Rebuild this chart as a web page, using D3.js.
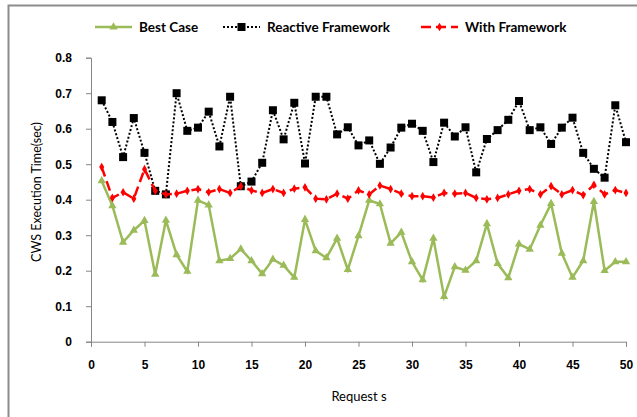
<!DOCTYPE html>
<html>
<head>
<meta charset="utf-8">
<script src="https://cdn.jsdelivr.net/npm/d3@7"></script>
<style>
  body { margin: 0; background: #fff; }
  svg { display: block; font-family: Lato, "Open Sans", sans-serif; }
</style>
</head>
<body>
<div id="chart"></div>
<script>
// 各系列的值
const requests = d3.range(1, 51);
const bestCase = [0.453, 0.383, 0.280, 0.314, 0.341, 0.190, 0.342, 0.245, 0.198, 0.398,
  0.385, 0.228, 0.234, 0.261, 0.228, 0.191, 0.232, 0.215, 0.181, 0.344,
  0.256, 0.236, 0.291, 0.203, 0.298, 0.398, 0.388, 0.277, 0.308, 0.225,
  0.174, 0.291, 0.127, 0.211, 0.201, 0.228, 0.332, 0.220, 0.180, 0.275,
  0.260, 0.328, 0.389, 0.249, 0.181, 0.228, 0.395, 0.200, 0.225, 0.225];
const reactive = [0.680, 0.619, 0.520, 0.630, 0.532, 0.425, 0.415, 0.700, 0.594, 0.603,
  0.648, 0.550, 0.690, 0.438, 0.451, 0.504, 0.652, 0.570, 0.673, 0.502,
  0.690, 0.690, 0.584, 0.604, 0.553, 0.567, 0.501, 0.547, 0.603, 0.614,
  0.594, 0.506, 0.617, 0.578, 0.604, 0.477, 0.571, 0.596, 0.625, 0.678,
  0.596, 0.604, 0.557, 0.603, 0.631, 0.532, 0.487, 0.462, 0.666, 0.562];
const withFramework = [0.492, 0.405, 0.421, 0.403, 0.486, 0.425, 0.415, 0.417, 0.425, 0.430,
  0.421, 0.430, 0.419, 0.438, 0.426, 0.419, 0.430, 0.419, 0.431, 0.435,
  0.403, 0.401, 0.417, 0.403, 0.426, 0.415, 0.440, 0.430, 0.417, 0.410,
  0.410, 0.406, 0.419, 0.417, 0.419, 0.405, 0.401, 0.405, 0.415, 0.425,
  0.430, 0.415, 0.438, 0.415, 0.427, 0.413, 0.442, 0.415, 0.427, 0.419];
const xTicks = d3.range(0, 51, 5);
const yTicks = d3.range(0, 0.81, 0.1);

const width = 637, height = 417;
const margin = { top: 57.7, right: 11, bottom: 75.3, left: 91 };

const series = [
  { name: "Best Case", values: bestCase, color: "#9bbb59", dash: null, width: 2.5, marker: "triangle", legendX: 95 },
  { name: "Reactive Framework", values: reactive, color: "#000", dash: "2,2", width: 2, marker: "square", legendX: 223 },
  { name: "With Framework", values: withFramework, color: "#ff0000", dash: "10,5", width: 2.5, marker: "diamond", legendX: 421 }
];

const svg = d3.select("#chart").append("svg")
  .attr("width", width).attr("height", height);

// 外框
svg.append("rect")
  .attr("x", 8.5).attr("y", 5.5)
  .attr("width", width).attr("height", height)
  .attr("fill", "none").attr("stroke", "#8c8c8c").attr("stroke-width", 2);

const x = d3.scaleLinear().domain([0, 50]).range([margin.left, width - margin.right]);
const y = d3.scaleLinear().domain([0, 0.8]).range([height - margin.bottom, margin.top]);

// 座標軸
svg.append("g")
  .attr("transform", `translate(0,${y(0)})`)
  .call(d3.axisBottom(x).tickValues(xTicks).tickSize(5).tickPadding(14))
  .call(g => g.selectAll("line, path").attr("stroke", "#868686"))
  .call(g => g.selectAll("text").attr("font-size", 12).attr("font-weight", "bold").attr("fill", "#000"));

svg.append("g")
  .attr("transform", `translate(${x(0)},0)`)
  .call(d3.axisLeft(y).tickValues(yTicks).tickSize(5).tickPadding(14).tickFormat(d => d3.format(".1~f")(d)))
  .call(g => g.selectAll("line, path").attr("stroke", "#868686"))
  .call(g => g.selectAll("text").attr("font-size", 12).attr("font-weight", "bold").attr("fill", "#000"));

svg.append("text")
  .attr("x", 359).attr("y", 401)
  .attr("text-anchor", "middle").attr("font-size", 13)
  .text("Request s");

svg.append("text")
  .attr("transform", "translate(41,192) rotate(-90)")
  .attr("text-anchor", "middle").attr("font-size", 12.5)
  .text("CWS Execution Time(sec)");

function drawMarker(g, type, color, cx, cy) {
  if (type === "triangle") {
    g.append("path").attr("d", d3.symbol(d3.symbolTriangle, 30)())
      .attr("transform", `translate(${cx},${cy})`).attr("fill", color);
  } else if (type === "square") {
    g.append("rect").attr("x", cx - 4).attr("y", cy - 4)
      .attr("width", 8).attr("height", 8).attr("fill", color);
  } else {
    g.append("path").attr("d", d3.symbol(d3.symbolDiamond, 22)())
      .attr("transform", `translate(${cx},${cy})`).attr("fill", color);
  }
}

const line = d3.line().x((d, i) => x(requests[i])).y(d => y(d));

series.forEach(s => {
  const g = svg.append("g");
  g.append("path")
    .datum(s.values)
    .attr("d", line)
    .attr("fill", "none")
    .attr("stroke", s.color)
    .attr("stroke-width", s.width)
    .attr("stroke-dasharray", s.dash);
  s.values.forEach((v, i) => drawMarker(g, s.marker, s.color, x(requests[i]), y(v)));

  // 圖例
  const lg = svg.append("g");
  lg.append("line")
    .attr("x1", s.legendX).attr("x2", s.legendX + 37)
    .attr("y1", 27).attr("y2", 27)
    .attr("stroke", s.color).attr("stroke-width", s.width)
    .attr("stroke-dasharray", s.dash);
  drawMarker(lg, s.marker, s.color, s.legendX + 18.5, 27);
  lg.append("text")
    .attr("x", s.legendX + 44).attr("y", 31.5)
    .attr("font-size", 13.5).attr("font-weight", "bold")
    .text(s.name);
});
</script>
</body>
</html>
